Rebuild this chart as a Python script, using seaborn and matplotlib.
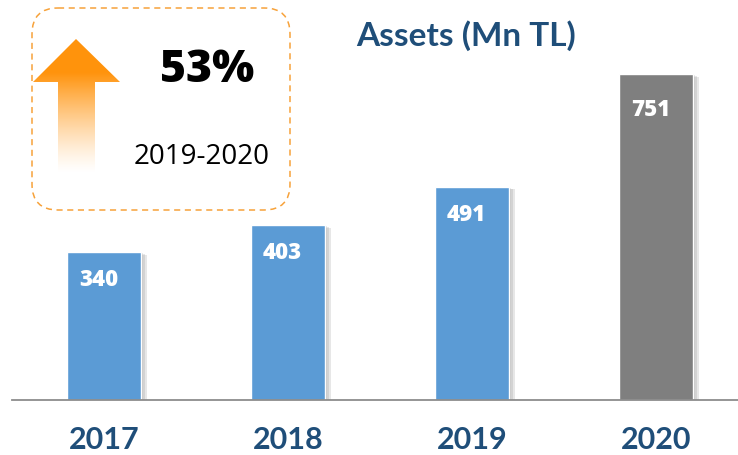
import numpy as np
import pandas as pd
import matplotlib
matplotlib.use("Agg")
import matplotlib.pyplot as plt
from matplotlib import patheffects
from matplotlib.patches import FancyBboxPatch, Polygon
import seaborn as sns

# data
years = ["2017", "2018", "2019", "2020"]
assets = [340, 403, 491, 751]
bar_colors = ["#5B9BD5", "#5B9BD5", "#5B9BD5", "#7F7F7F"]
title = "Assets (Mn TL)"
growth_text = "53%"
growth_period = "2019-2020"

sns.set_theme(style="white")
plt.rcParams["font.family"] = ["Lato", "DejaVu Sans"]

df = pd.DataFrame({"year": years, "assets": assets})

W, H = 738, 456
fig = plt.figure(figsize=(W / 100, H / 100), dpi=100)

# main axes: categories are 184px wide, baseline at y=401px
ax = fig.add_axes([12 / W, (H - 401) / H, 736 / W, 401 / H])
sns.barplot(data=df, x="year", y="assets", hue="year", palette=bar_colors,
            width=0.40, legend=False, ax=ax, saturation=1)
ax.set_ylim(0, 924)
ax.set_xlim(-0.5, 3.5)

# soft-ish shadow: a few stacked offsets
shadow = [patheffects.SimplePatchShadow(offset=(d, -d * 0.4), shadow_rgbFace="#7a7a7a", alpha=0.18)
          for d in (1.5, 3, 4.5)]
for p in ax.patches:
    p.set_path_effects(shadow + [patheffects.Normal()])

for i, v in enumerate(assets):
    top_off = 27 if i < 3 else 35
    ax.annotate(str(v), (i, v), xytext=(-4, -top_off * 0.72), textcoords="offset points",
                ha="center", va="center", color="white", fontsize=16, fontweight="heavy",
                family=["Open Sans", "DejaVu Sans"])

# axis styling
for s in ["top", "right", "left"]:
    ax.spines[s].set_visible(False)
ax.spines["bottom"].set_color("#8C8C8C")
ax.spines["bottom"].set_linewidth(1.3)
ax.set_yticks([])
ax.set_xlabel("")
ax.set_ylabel("")
ax.set_xticks(range(len(years)))
ax.set_xticklabels(years, fontsize=22, fontweight="bold", color="#1F4E79")
ax.tick_params(axis="x", which="major", length=0, pad=18)
ax.set_xticks(np.arange(-0.5, len(years), 1.0), minor=True)
ax.tick_params(axis="x", which="minor", length=8, width=1.3, color="#8C8C8C")

# overlay in pixel coordinates for the callout
ov = fig.add_axes([0, 0, 1, 1])
ov.set_xlim(0, W)
ov.set_ylim(H, 0)
ov.axis("off")
ov.patch.set_alpha(0)

ov.text(466, 36, title, ha="center", va="center", fontsize=24, fontweight="bold", color="#1F4E79")

box = FancyBboxPatch((32, 9), 258, 202, boxstyle="round,pad=0,rounding_size=26",
                     fill=False, edgecolor="#F7A23A", linewidth=1.1, linestyle=(0, (4, 3)))
ov.add_patch(box)

# gradient arrow
arrow = Polygon([(76, 40), (120, 83), (95, 83), (95, 175), (58, 175), (58, 83), (33, 83)],
                closed=True, facecolor="none", edgecolor="none")
ov.add_patch(arrow)
ys = np.linspace(0, 1, 256)
alpha = np.clip(1 - (ys - 0.25) / 0.75, 0, 1) ** 1.3
alpha[ys < 0.25] = 1
grad = np.zeros((256, 1, 4))
grad[..., 0] = 1.0
grad[..., 1] = 0.58
grad[..., 2] = 0.05
grad[..., 3] = alpha[:, None]
im = ov.imshow(grad, extent=(33, 120, 175, 40), aspect="auto", zorder=3)
im.set_clip_path(arrow)

ov.text(207, 70, growth_text, ha="center", va="center", fontsize=32, fontweight="heavy",
        family=["Open Sans", "DejaVu Sans"], color="black")
ov.text(202, 157, growth_period, ha="center", va="center", fontsize=20,
        family=["Open Sans", "DejaVu Sans"], color="black")

fig.savefig("out.png", dpi=100)
